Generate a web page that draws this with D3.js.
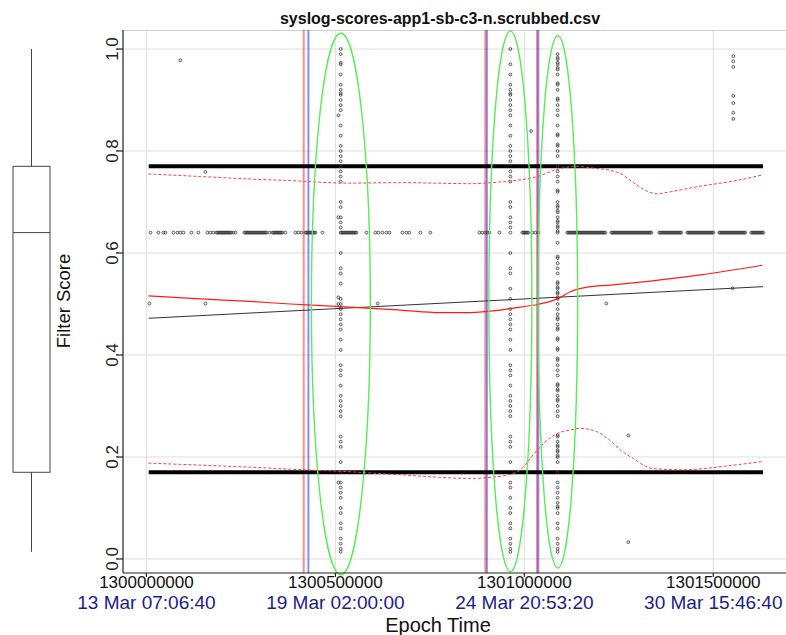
<!DOCTYPE html>
<html>
<head>
<meta charset="utf-8">
<script src="https://cdn.jsdelivr.net/npm/d3@7"></script>
<style>
  body { margin: 0; background: #fff; }
  svg { display: block; }
  text { font-family: "Liberation Sans", Arial, sans-serif; }
</style>
</head>
<body>
<svg id="chart" width="786" height="635"></svg>
<script>
// ---- data ---------------------------------------------------------------
const T0 = 1300000000;                       // epoch seconds, all offsets below are ks from here
const chartTitle = "syslog-scores-app1-sb-c3-n.scrubbed.csv";
const xTicks = [1300000000, 1300500000, 1301000000, 1301500000];
const xTickDates = ["13 Mar 07:06:40", "19 Mar 02:00:00", "24 Mar 20:53:20", "30 Mar 15:46:40"];
const yTicks = [0, 0.2, 0.4, 0.6, 0.8, 1.0];

// events scoring at the usual 0.64 level
const bandScore = 0.64;
const bandKs = [10.6, 31.7, 45.0, 50.3, 71.4, 82.0, 89.9, 97.9, 119.0, 137.6, 161.4, 169.3, 177.2,
  185.2, 187.8, 190.5, 193.1, 195.8, 198.4, 201.1, 203.7, 206.3, 209.0, 211.6, 214.3, 216.9, 219.6,
  222.2, 224.9, 230.2, 235.4, 259.3, 261.9, 264.6, 267.2, 269.8, 272.5, 275.1, 277.8, 280.4, 283.1,
  285.7, 288.4, 291.0, 293.6, 296.3, 298.9, 301.6, 304.2, 306.9, 309.5, 312.2, 314.8, 317.5, 325.4,
  333.3, 336.0, 338.6, 341.3, 343.9, 346.6, 349.2, 351.9, 354.5, 357.1, 359.8, 367.7, 394.2, 402.1,
  410.1, 420.6, 423.3, 425.9, 428.6, 431.2, 433.9, 436.5, 439.2, 441.8, 444.4, 447.1, 465.6, 515.9,
  518.5, 521.2, 523.8, 526.5, 529.1, 531.7, 534.4, 537.0, 539.7, 542.3, 545.0, 547.6, 550.3, 552.9,
  555.6, 582.0, 605.8, 613.8, 624.3, 634.9, 642.9, 677.2, 687.8, 695.8, 724.9, 751.3, 881.0, 888.9,
  896.8, 902.1, 907.4, 933.9, 994.7, 997.4, 1000.0, 1002.6, 1005.3, 1007.9, 1010.6, 1021.2, 1029.1,
  1037.0,
  1113.8, 1116.4, 1119.0, 1121.7, 1124.3, 1127.0, 1129.6, 1132.3, 1134.9, 1137.6, 1140.2, 1142.9,
  1145.5, 1148.1, 1150.8, 1153.4, 1156.1, 1158.7, 1161.4, 1164.0, 1166.7, 1169.3, 1172.0, 1174.6,
  1177.2, 1179.9, 1182.5, 1185.2, 1187.8, 1190.5, 1193.1, 1195.8, 1198.4, 1201.1, 1203.7, 1206.3,
  1209.0, 1211.6, 1214.3, 1230.2, 1232.8, 1235.4, 1238.1, 1240.7, 1243.4, 1246.0, 1248.7, 1251.3,
  1254.0, 1256.6, 1259.3, 1261.9, 1264.5, 1267.2, 1269.8, 1272.5, 1275.1, 1277.8, 1280.4, 1283.1,
  1285.7, 1288.4, 1291.0, 1293.6, 1296.3, 1298.9, 1301.6, 1304.2, 1306.9, 1309.5, 1312.2, 1314.8,
  1317.4, 1320.1, 1322.8, 1325.4, 1328.0, 1330.7, 1333.3, 1336.0, 1357.1, 1359.8, 1362.4, 1365.1,
  1367.7, 1370.4, 1373.0, 1375.7, 1378.3, 1380.9, 1383.6, 1386.2, 1388.9, 1391.5, 1394.2, 1396.8,
  1399.5, 1402.1, 1404.8, 1407.4, 1410.1, 1412.7, 1415.3, 1431.2, 1433.9, 1436.5, 1439.2, 1441.8,
  1444.4, 1447.1, 1449.7, 1452.4, 1455.0, 1457.7, 1460.3, 1462.9, 1465.6, 1468.3, 1470.9, 1473.5,
  1476.2, 1478.8, 1481.5, 1484.1, 1486.8, 1489.4, 1492.1, 1494.7, 1497.4, 1500.0, 1515.9, 1518.5,
  1521.2, 1523.8, 1526.4, 1529.1, 1531.7, 1534.4, 1537.0, 1539.7, 1542.3, 1545.0, 1547.6, 1550.3,
  1552.9, 1555.6, 1558.2, 1560.8, 1563.5, 1566.1, 1568.8, 1571.4, 1574.1, 1576.7, 1579.3, 1582.0,
  1584.6, 1600.5, 1603.2, 1605.8, 1608.4, 1611.1, 1613.8, 1616.4, 1619.0, 1621.7, 1624.3, 1627.0,
  1629.6, 1632.3];

// bursts of events spread over the whole score range
const burstKs = [514.0, 507.9, 963.0, 1088.1];
const burstScores = [
  [1.0, 0.99, 0.97, 0.973, 0.95, 0.93, 0.92, 0.91, 0.913, 0.90, 0.89, 0.88, 0.85, 0.83, 0.81, 0.80,
   0.79, 0.78, 0.77, 0.76, 0.75, 0.74, 0.70, 0.69, 0.67, 0.66, 0.65, 0.64, 0.60, 0.57, 0.56, 0.54,
   0.51, 0.50, 0.49, 0.493, 0.48, 0.47, 0.46, 0.45, 0.43, 0.41, 0.38, 0.37, 0.36, 0.34, 0.32, 0.31,
   0.30, 0.29, 0.28, 0.24, 0.23, 0.22, 0.19, 0.17, 0.15, 0.14, 0.13, 0.12, 0.10, 0.09, 0.07, 0.06,
   0.04, 0.03, 0.02, 0.014],
  [0.87, 0.67, 0.513, 0.50, 0.15],
  [1.0, 0.97, 0.95, 0.93, 0.92, 0.91, 0.913, 0.90, 0.89, 0.88, 0.87, 0.85, 0.83, 0.81, 0.80, 0.79,
   0.78, 0.76, 0.75, 0.74, 0.70, 0.69, 0.67, 0.66, 0.65, 0.64, 0.60, 0.57, 0.56, 0.53, 0.51, 0.49,
   0.48, 0.47, 0.46, 0.45, 0.43, 0.41, 0.38, 0.37, 0.36, 0.34, 0.32, 0.31, 0.30, 0.29, 0.28, 0.24,
   0.23, 0.22, 0.19, 0.15, 0.14, 0.12, 0.10, 0.09, 0.07, 0.06, 0.04, 0.03, 0.02, 0.014],
  [0.99, 0.98, 0.983, 0.97, 0.973, 0.96, 0.963, 0.95, 0.93, 0.933, 0.92, 0.90, 0.903, 0.89, 0.88,
   0.87, 0.85, 0.83, 0.833, 0.81, 0.813, 0.80, 0.79, 0.77, 0.76, 0.75, 0.74, 0.72, 0.723, 0.70,
   0.69, 0.693, 0.68, 0.683, 0.67, 0.66, 0.663, 0.65, 0.653, 0.64, 0.643, 0.62, 0.59, 0.593, 0.58,
   0.57, 0.56, 0.54, 0.543, 0.53, 0.533, 0.52, 0.523, 0.51, 0.513, 0.50, 0.49, 0.48, 0.47, 0.473,
   0.46, 0.45, 0.453, 0.43, 0.433, 0.41, 0.413, 0.39, 0.393, 0.38, 0.37, 0.36, 0.34, 0.343, 0.33,
   0.333, 0.32, 0.31, 0.313, 0.30, 0.29, 0.28, 0.24, 0.243, 0.23, 0.22, 0.223, 0.21, 0.213, 0.20,
   0.203, 0.19, 0.17, 0.15, 0.14, 0.13, 0.12, 0.11, 0.10, 0.103, 0.09, 0.07, 0.06, 0.04, 0.03,
   0.02, 0.014]
];

// isolated events
const otherKs = [7.9, 89.9, 156.1, 156.1, 612.0, 1017.7, 1216.9, 1275.1, 1275.1, 1551.1,
  1552.9, 1552.9, 1552.9, 1552.9, 1552.9, 1552.9, 1552.9];
const otherScores = [0.501, 0.978, 0.759, 0.501, 0.501, 0.839, 0.501, 0.242, 0.033, 0.531,
  0.986, 0.976, 0.965, 0.908, 0.894, 0.875, 0.863];

// summary of all scores
const scoreMin = 0.014, scoreQ1 = 0.17, scoreMedian = 0.64, scoreQ3 = 0.77, scoreMax = 1.0;
const spanKs = [6.1, 1631.5];               // first and last event
const fitScores = [0.472, 0.534];            // linear fit at spanKs

// smoothed trend and its band
const smoothKs = [5.3, 142.9, 275.1, 381.0, 513.2, 672.0, 777.8, 857.1, 936.5, 989.4, 1034.4,
  1087.3, 1121.7, 1166.7, 1227.5, 1333.3, 1465.6, 1629.6];
const smoothScores = [0.516, 0.510, 0.505, 0.500, 0.495, 0.488, 0.483, 0.483, 0.488, 0.494, 0.499,
  0.510, 0.524, 0.533, 0.537, 0.545, 0.557, 0.576];
const upperKs = [5.3, 142.9, 275.1, 381.0, 531.7, 672.0, 857.1, 944.4, 1034.4, 1087.3, 1134.9,
  1187.8, 1227.5, 1254.0, 1288.4, 1325.4, 1351.9, 1378.3, 1465.6, 1552.9, 1629.6];
const upperScores = [0.755, 0.750, 0.745, 0.742, 0.737, 0.738, 0.736, 0.740, 0.750, 0.764, 0.770,
  0.766, 0.762, 0.756, 0.738, 0.721, 0.716, 0.719, 0.731, 0.741, 0.753];
const lowerKs = [5.3, 142.9, 275.1, 381.0, 513.2, 672.0, 857.1, 944.4, 989.4, 1034.4, 1068.8,
  1087.3, 1121.7, 1148.1, 1193.1, 1227.5, 1254.0, 1288.4, 1341.3, 1420.6, 1552.9, 1629.6];
const lowerScores = [0.188, 0.184, 0.180, 0.176, 0.172, 0.165, 0.158, 0.163, 0.175, 0.214, 0.238,
  0.246, 0.253, 0.256, 0.249, 0.232, 0.214, 0.197, 0.177, 0.175, 0.184, 0.191];

// change markers
const redMarkKs = [416.1, 896.8, 1033.6];
const blueMarkKs = [428.6, 900.8, 1037.0];

// highlighted clusters: centre (ks, score) and half sizes (ks, score)
const clusterKs = [514.5, 963.0, 1088.6];
const clusterScores = [0.500, 0.505, 0.504];
const clusterHalfKs = [78.0, 56.9, 52.4];
const clusterHalfScores = [0.531, 0.530, 0.522];

// ---- drawing ------------------------------------------------------------
const svg = d3.select("#chart");
const plot = { left: 123, right: 787, top: 30, bottom: 573 };

const x = d3.scaleLinear().domain([1299938000, 1301695000]).range([plot.left, plot.right]);
const y = d3.scaleLinear().domain([-0.0275, 1.0373]).range([plot.bottom, plot.top]);
const tx = ks => x(T0 + ks * 1000);

// grid
const grid = svg.append("g").attr("stroke", "#dedede").attr("stroke-width", 1);
grid.selectAll("line.gx").data(xTicks).join("line")
  .attr("x1", d => x(d)).attr("x2", d => x(d))
  .attr("y1", plot.top).attr("y2", plot.bottom);
grid.selectAll("line.gy").data(yTicks).join("line")
  .attr("x1", plot.left).attr("x2", plot.right)
  .attr("y1", d => y(d)).attr("y2", d => y(d));
grid.append("line").attr("x1", plot.left).attr("x2", plot.right)
  .attr("y1", plot.top + 0.5).attr("y2", plot.top + 0.5).attr("stroke", "#cfcfcf");

// change markers
const marks = svg.append("g").attr("stroke-width", 2);
marks.selectAll("line.r").data(redMarkKs).join("line")
  .attr("x1", d => tx(d)).attr("x2", d => tx(d))
  .attr("y1", plot.top).attr("y2", plot.bottom)
  .attr("stroke", "#ff0000").attr("stroke-opacity", 0.45);
marks.selectAll("line.b").data(blueMarkKs).join("line")
  .attr("x1", d => tx(d)).attr("x2", d => tx(d))
  .attr("y1", plot.top).attr("y2", plot.bottom)
  .attr("stroke", "#0000ff").attr("stroke-opacity", 0.45);

// quartile lines
svg.append("g").selectAll("line").data([scoreQ3, scoreQ1]).join("line")
  .attr("x1", tx(spanKs[0])).attr("x2", tx(spanKs[1]))
  .attr("y1", d => y(d)).attr("y2", d => y(d))
  .attr("stroke", "#000").attr("stroke-width", 4);

// points
const pts = [];
bandKs.forEach(k => pts.push([k, bandScore]));
burstKs.forEach((k, i) => burstScores[i].forEach(s => pts.push([k, s])));
otherKs.forEach((k, i) => pts.push([k, otherScores[i]]));
svg.append("g").selectAll("circle").data(pts).join("circle")
  .attr("cx", d => tx(d[0])).attr("cy", d => y(d[1])).attr("r", 1.4)
  .attr("fill", "none").attr("stroke", "#3a3a3a").attr("stroke-width", 0.85);

// linear fit
svg.append("line")
  .attr("x1", tx(spanKs[0])).attr("x2", tx(spanKs[1]))
  .attr("y1", y(fitScores[0])).attr("y2", y(fitScores[1]))
  .attr("stroke", "#333").attr("stroke-width", 1);

// smoothed trend
const trend = (ks, sc) => d3.line().curve(d3.curveMonotoneX)
  .x(d => tx(d)).y((d, i) => y(sc[i]))(ks);
svg.append("path").attr("d", trend(smoothKs, smoothScores))
  .attr("fill", "none").attr("stroke", "#ff1a1a").attr("stroke-width", 1.2);
svg.append("path").attr("d", trend(upperKs, upperScores))
  .attr("fill", "none").attr("stroke", "#ff4040").attr("stroke-width", 1)
  .attr("stroke-dasharray", "3,2");
svg.append("path").attr("d", trend(lowerKs, lowerScores))
  .attr("fill", "none").attr("stroke", "#ff4040").attr("stroke-width", 1)
  .attr("stroke-dasharray", "3,2");

// highlighted clusters
svg.append("g").selectAll("ellipse").data(clusterKs).join("ellipse")
  .attr("cx", d => tx(d))
  .attr("cy", (d, i) => y(clusterScores[i]))
  .attr("rx", (d, i) => tx(d + clusterHalfKs[i]) - tx(d))
  .attr("ry", (d, i) => y(clusterScores[i] - clusterHalfScores[i]) - y(clusterScores[i]))
  .attr("fill", "none").attr("stroke", "#55ee55").attr("stroke-width", 1.4);

// axes frame
const axes = svg.append("g").attr("stroke", "#222").attr("stroke-width", 1.2);
axes.append("line").attr("x1", plot.left).attr("x2", plot.left)
  .attr("y1", plot.top).attr("y2", plot.bottom);
axes.append("line").attr("x1", plot.left).attr("x2", plot.right)
  .attr("y1", plot.bottom).attr("y2", plot.bottom);
axes.selectAll("line.ty").data(yTicks).join("line")
  .attr("x1", plot.left - 5).attr("x2", plot.left)
  .attr("y1", d => y(d)).attr("y2", d => y(d));
axes.selectAll("line.tx").data(xTicks).join("line")
  .attr("x1", d => x(d)).attr("x2", d => x(d))
  .attr("y1", plot.bottom).attr("y2", plot.bottom + 4);

// y tick labels (parallel to the axis)
svg.append("g").selectAll("text").data(yTicks).join("text")
  .attr("transform", d => `translate(117.5,${y(d)}) rotate(-90)`)
  .attr("text-anchor", "middle").attr("font-size", 17).attr("fill", "#222")
  .text(d3.format(".1f"));

// x tick labels: epoch seconds and UTC dates
svg.append("g").selectAll("text").data(xTicks).join("text")
  .attr("x", d => x(d)).attr("y", 588)
  .attr("text-anchor", "middle").attr("font-size", 17).attr("fill", "#111")
  .text(d => d);
svg.append("g").selectAll("text").data(xTickDates).join("text")
  .attr("x", (d, i) => x(xTicks[i])).attr("y", 609)
  .attr("text-anchor", "middle").attr("font-size", 19).attr("fill", "#1c1c8c")
  .text(d => d);

// axis titles
svg.append("text").attr("x", 438).attr("y", 632).attr("text-anchor", "middle")
  .attr("font-size", 20).attr("fill", "#111").text("Epoch Time");
svg.append("text").attr("transform", "translate(70,301) rotate(-90)")
  .attr("text-anchor", "middle").attr("font-size", 18.5).attr("fill", "#111").text("Filter Score");
svg.append("text").attr("x", 440).attr("y", 24).attr("text-anchor", "middle")
  .attr("font-size", 16).attr("font-weight", "bold").attr("fill", "#111").text(chartTitle);

// box plot of all scores
const bx = d3.scaleLinear().domain([0, 1]).range([13, 50]);
const box = svg.append("g").attr("stroke", "#444").attr("stroke-width", 1).attr("fill", "none");
box.append("line").attr("x1", bx(0.5)).attr("x2", bx(0.5))
  .attr("y1", y(scoreMax)).attr("y2", y(scoreQ3));
box.append("line").attr("x1", bx(0.5)).attr("x2", bx(0.5))
  .attr("y1", y(scoreQ1)).attr("y2", y(scoreMin));
box.append("rect").attr("x", bx(0)).attr("width", bx(1) - bx(0))
  .attr("y", y(scoreQ3)).attr("height", y(scoreQ1) - y(scoreQ3));
box.append("line").attr("x1", bx(0)).attr("x2", bx(1))
  .attr("y1", y(scoreMedian)).attr("y2", y(scoreMedian));
</script>
</body>
</html>
